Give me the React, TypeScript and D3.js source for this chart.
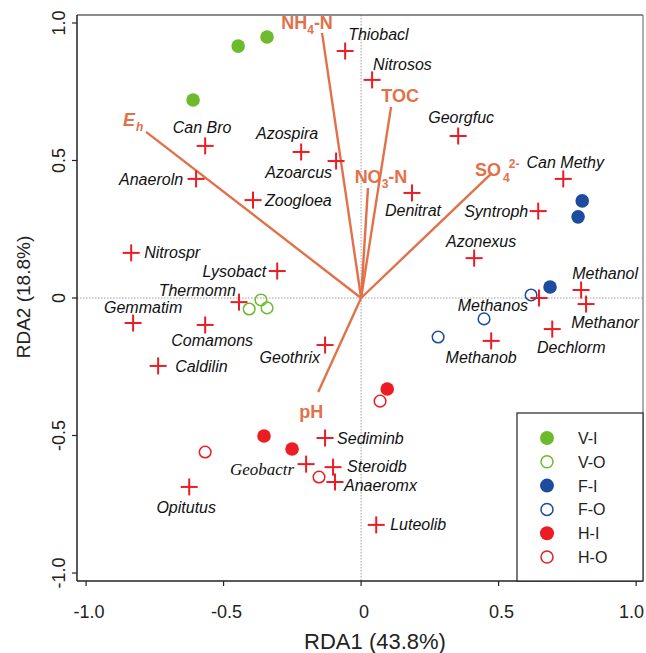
import React from 'react';
import * as d3 from 'd3';

// species scores (RDA1, RDA2)
const speciesNames = [
  'Thiobacl', 'Nitrosos', 'Georgfuc', 'Can Methy', 'Syntroph', 'Can Bro', 'Anaeroln', 'Azospira',
  'Azoarcus', 'Zoogloea', 'Denitrat', 'Nitrospr', 'Lysobact', 'Thermomn', 'Gemmatim', 'Comamons',
  'Caldilin', 'Geothrix', 'Azonexus', 'Methanol', 'Methanor', 'Methanos', 'Dechlorm', 'Methanob',
  'Sediminb', 'Geobactr', 'Steroidb', 'Anaeromx', 'Luteolib', 'Opitutus',
];
const speciesRDA1 = [
  -0.058, 0.04, 0.353, 0.735, 0.644, -0.567, -0.6, -0.218,
  -0.091, -0.393, 0.185, -0.836, -0.305, -0.444, -0.829, -0.567,
  -0.738, -0.131, 0.411, 0.8, 0.818, 0.647, 0.695, 0.473,
  -0.131, -0.2, -0.102, -0.095, 0.055, -0.625,
];
const speciesRDA2 = [
  0.898, 0.793, 0.589, 0.433, 0.316, 0.553, 0.433, 0.531,
  0.498, 0.356, 0.382, 0.164, 0.098, -0.015, -0.091, -0.098,
  -0.247, -0.171, 0.145, 0.029, -0.022, 0, -0.113, -0.156,
  -0.509, -0.604, -0.615, -0.669, -0.825, -0.687,
];

// site scores per group
const groups = ['V-I', 'V-O', 'F-I', 'F-O', 'H-I', 'H-O'];
const siteRDA1 = [
  [-0.447, -0.342, -0.611],
  [-0.407, -0.364, -0.342],
  [0.804, 0.789, 0.687],
  [0.618, 0.447, 0.28],
  [0.095, -0.353, -0.251],
  [0.069, -0.567, -0.153],
];
const siteRDA2 = [
  [0.916, 0.949, 0.72],
  [-0.04, -0.007, -0.036],
  [0.353, 0.295, 0.04],
  [0.011, -0.076, -0.142],
  [-0.331, -0.502, -0.549],
  [-0.375, -0.56, -0.651],
];

// environmental vectors
const envNames = ['NH4-N', 'TOC', 'NO3-N', 'SO4', 'Eh', 'pH'];
const envRDA1 = [-0.142, 0.109, 0.025, 0.476, -0.782, -0.156];
const envRDA2 = [0.964, 0.695, 0.4, 0.455, 0.604, -0.342];

const xTicks = [-1, -0.5, 0, 0.5, 1];
const xTickLabels = ['-1.0', '-0.5', '0', '0.5', '1.0'];
const yTicks = [-1, -0.5, 0, 0.5, 1];
const yTickLabels = ['-1.0', '-0.5', '0', '0.5', '1.0'];

// label placement for species: [dx, dy, anchor]
const speciesLabelPos: [number, number, string][] = [
  [3, -17, 'start'], [1, -16, 'start'], [3, -19, 'middle'], [2, -17, 'middle'], [-10, 0, 'end'],
  [-3, -19, 'middle'], [-13, 0, 'end'], [-14, -19, 'middle'], [-4, 11, 'end'], [12, 0, 'start'],
  [1, 17, 'middle'], [13, 0, 'start'], [-11, 0, 'end'], [-3, -12, 'end'], [10, -16, 'middle'],
  [7, 15, 'middle'], [17, 0, 'start'], [-5, 12, 'end'], [7, -17, 'middle'], [24, -17, 'middle'],
  [19, 18, 'middle'], [-11, 7, 'end'], [19, 18, 'middle'], [-10, 16, 'middle'], [12, 0, 'start'],
  [-12, 5, 'end'], [14, -1, 'start'], [9, 3, 'start'], [14, 0, 'start'], [-3, 20, 'middle'],
];

const GREEN = '#6cbb2d';
const BLUE = '#1c4ba0';
const RED = '#ec1c24';
const ORANGE = '#e2714a';
const groupColor = [GREEN, GREEN, BLUE, BLUE, RED, RED];
const groupFilled = [true, false, true, false, true, false];

const W = 646;
const H = 653;
const left = 77, right = 643, top = 15, bottom = 581;

const x = d3.scaleLinear().domain([-1.033, 1.025]).range([left, right]);
const y = d3.scaleLinear().domain([-1.029, 1.029]).range([bottom, top]);

const FONT = 'Liberation Sans, Arial, sans-serif';

function EnvLabel({ name, tx, ty }: { name: string; tx: number; ty: number }) {
  const common = { fill: ORANGE, fontFamily: FONT, fontWeight: 'bold' as const, fontSize: 18 };
  if (name === 'NH4-N') {
    return (
      <text x={tx - 15} y={ty - 4} textAnchor="middle" {...common}>
        NH<tspan fontSize={12} dy={5}>4</tspan><tspan dy={-5}>-N</tspan>
      </text>
    );
  }
  if (name === 'NO3-N') {
    return (
      <text x={tx + 13} y={ty - 5} textAnchor="middle" {...common}>
        NO<tspan fontSize={12} dy={5}>3</tspan><tspan dy={-5}>-N</tspan>
      </text>
    );
  }
  if (name === 'SO4') {
    return (
      <text x={tx - 17} y={ty + 3} textAnchor="start" {...common}>
        SO<tspan fontSize={12} dy={6} dx={2}>4</tspan><tspan fontSize={12} dy={-14} dx={-1}>2-</tspan>
      </text>
    );
  }
  if (name === 'Eh') {
    return (
      <text x={tx - 23} y={ty - 6} textAnchor="start" {...common} fontStyle="italic">
        E<tspan fontSize={12} dy={5} dx={1}>h</tspan>
      </text>
    );
  }
  if (name === 'TOC') {
    return <text x={tx + 9} y={ty - 5} textAnchor="middle" {...common}>TOC</text>;
  }
  return <text x={tx - 7} y={ty + 26} textAnchor="middle" {...common}>{name}</text>;
}

export default function App() {
  const x0 = x(0);
  const y0 = y(0);
  return (
    <svg width={W} height={H} style={{ position: 'absolute', left: 0, top: 0, background: '#fff' }}>
      {/* zero lines */}
      <line x1={x0} x2={x0} y1={top} y2={bottom} stroke="#888" strokeWidth={0.8} strokeDasharray="1.5,1.5" />
      <line x1={left} x2={right} y1={y0} y2={y0} stroke="#888" strokeWidth={0.8} strokeDasharray="1.5,1.5" />

      {/* box */}
      <line x1={left} x2={right} y1={top} y2={top} stroke="#666" strokeWidth={1.5} />
      <line x1={right} x2={right} y1={top} y2={bottom} stroke="#777" strokeWidth={1.2} />
      <line x1={left} x2={left} y1={top} y2={bottom} stroke="#222" strokeWidth={1.5} />
      <line x1={left} x2={right} y1={bottom} y2={bottom} stroke="#222" strokeWidth={1.5} />

      {/* ticks */}
      {xTicks.map((t, i) => {
        const last = i === xTicks.length - 1;
        return (
          <g key={'xt' + i}>
            <line x1={x(t)} x2={x(t)} y1={bottom} y2={bottom + 5} stroke="#222" strokeWidth={1.2} />
            <text
              x={last ? W - 2 : x(t) + 3}
              y={618}
              textAnchor={last ? 'end' : 'middle'}
              fontFamily={FONT}
              fontSize={18}
              fill="#222"
            >
              {xTickLabels[i]}
            </text>
          </g>
        );
      })}
      {yTicks.map((t, i) => (
        <g key={'yt' + i}>
          <line x1={left - 5} x2={left} y1={y(t)} y2={y(t)} stroke="#222" strokeWidth={1.2} />
          <text
            transform={`translate(65,${y(t)}) rotate(-90)`}
            textAnchor="middle"
            fontFamily={FONT}
            fontSize={18}
            fill="#222"
          >
            {yTickLabels[i]}
          </text>
        </g>
      ))}

      <text x={375} y={649} textAnchor="middle" fontFamily={FONT} fontSize={22} fill="#222">RDA1 (43.8%)</text>
      <text transform={`translate(30,297) rotate(-90)`} textAnchor="middle" fontFamily={FONT} fontSize={19} fill="#222">
        RDA2 (18.8%)
      </text>

      {/* environmental vectors */}
      {envNames.map((n, i) => (
        <line
          key={'env' + i}
          x1={x0}
          y1={y0}
          x2={x(envRDA1[i])}
          y2={y(envRDA2[i])}
          stroke={ORANGE}
          strokeWidth={2.4}
        />
      ))}
      {envNames.map((n, i) => (
        <EnvLabel key={'envl' + i} name={n} tx={x(envRDA1[i])} ty={y(envRDA2[i])} />
      ))}

      {/* sites */}
      {groups.map((g, gi) =>
        siteRDA1[gi].map((v, j) => (
          <circle
            key={g + j}
            cx={x(v)}
            cy={y(siteRDA2[gi][j])}
            r={groupFilled[gi] ? 6.8 : 5.8}
            fill={groupFilled[gi] ? groupColor[gi] : 'none'}
            stroke={groupColor[gi]}
            strokeWidth={groupFilled[gi] ? 0 : 1.5}
          />
        ))
      )}

      {/* species */}
      {speciesNames.map((name, i) => {
        const cx = x(speciesRDA1[i]);
        const cy = y(speciesRDA2[i]);
        const [dx, dy, anchor] = speciesLabelPos[i];
        const serif = name === 'Geobactr';
        return (
          <g key={'sp' + i}>
            <line x1={cx - 8.5} x2={cx + 8.5} y1={cy} y2={cy} stroke={RED} strokeWidth={2} />
            <line x1={cx} x2={cx} y1={cy - 8.5} y2={cy + 8.5} stroke={RED} strokeWidth={2} />
            <text
              x={cx + dx}
              y={cy + dy + 5.6}
              textAnchor={anchor}
              fontFamily={serif ? 'Liberation Serif, Times New Roman, serif' : FONT}
              fontStyle="italic"
              fontSize={serif ? 17 : 16}
              fill="#111"
            >
              {name}
            </text>
          </g>
        );
      })}

      {/* legend */}
      <rect x={517} y={413} width={right - 517} height={bottom - 413} fill="#fff" stroke="#222" strokeWidth={1.2} />
      {groups.map((g, i) => {
        const ly = 438 + i * 23.8;
        return (
          <g key={'lg' + i}>
            <circle
              cx={547}
              cy={ly}
              r={groupFilled[i] ? 7 : 6}
              fill={groupFilled[i] ? groupColor[i] : 'none'}
              stroke={groupColor[i]}
              strokeWidth={groupFilled[i] ? 0 : 1.5}
            />
            <text x={578} y={ly + 6} fontFamily={FONT} fontSize={16} fill="#222">{g}</text>
          </g>
        );
      })}
    </svg>
  );
}
